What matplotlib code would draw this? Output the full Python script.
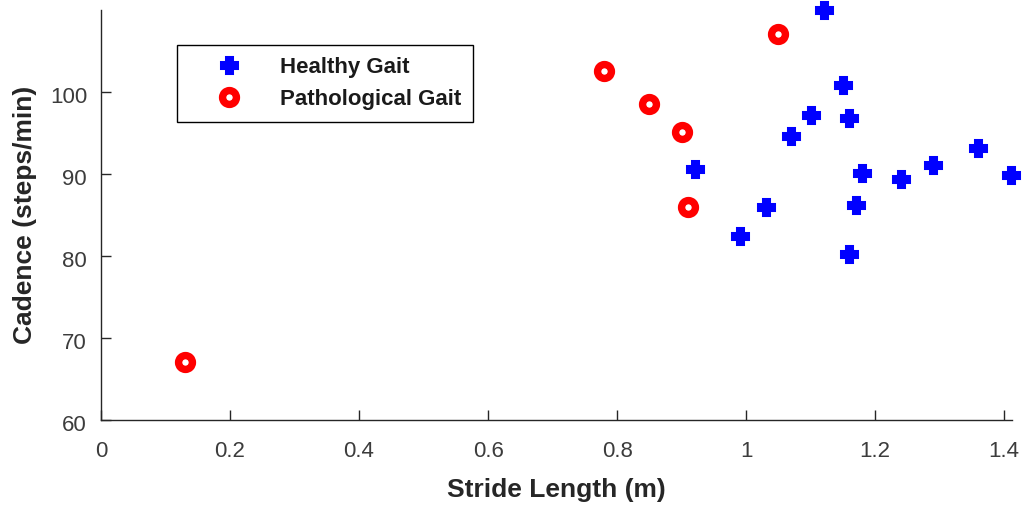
import matplotlib
matplotlib.use("Agg")
import matplotlib.pyplot as plt
from matplotlib.transforms import ScaledTranslation

# stride length (m) and cadence (steps/min)
healthy_stride = [1.12, 0.92, 0.99, 1.03, 1.07, 1.10, 1.15, 1.16, 1.18, 1.17, 1.16, 1.24, 1.29, 1.36, 1.41]
healthy_cadence = [110.0, 90.6, 82.4, 86.0, 94.6, 97.2, 100.9, 96.8, 90.1, 86.2, 80.2, 89.4, 91.1, 93.2, 89.9]
patho_stride = [0.13, 0.78, 0.85, 0.90, 0.91, 1.05]
patho_cadence = [67.1, 102.6, 98.5, 95.1, 86.0, 107.1]

xticks = [0, 0.2, 0.4, 0.6, 0.8, 1.0, 1.2, 1.4]
xticklabels = ["0", "0.2", "0.4", "0.6", "0.8", "1", "1.2", "1.4"]
yticks = [60, 70, 80, 90, 100]

plt.rcParams["font.family"] = ["Liberation Sans", "DejaVu Sans"]
axc = "#262626"

fig = plt.figure(figsize=(10.22, 5.07), dpi=100)
ax = fig.add_axes([0.0988, 0.1716, 0.8914, 0.8087])

ax.plot(healthy_stride, healthy_cadence, linestyle="none", marker="P",
        markersize=11, markerfacecolor="#0000ff", markeredgecolor="#0000ff",
        markeredgewidth=2.2, label="Healthy Gait", clip_on=False, zorder=3)
ax.plot(patho_stride, patho_cadence, linestyle="none", marker="o",
        markersize=10, markerfacecolor="white", markeredgecolor="#ff0000",
        markeredgewidth=5.3, label="Pathological Gait", clip_on=False, zorder=3)

ax.set_xlim(0, 1.412)
ax.set_ylim(60, 110)
ax.set_xticks(xticks)
ax.set_xticklabels(xticklabels)
ax.set_yticks(yticks)
ax.tick_params(direction="in", length=7, width=1, colors=axc, labelsize=16,
               labelcolor="#3c3c3c")
ax.tick_params(axis="x", pad=15)
ax.tick_params(axis="y", pad=10)
# matlab-style: y tick labels sit a little below their tick
for lab in ax.get_yticklabels():
    lab.set_transform(lab.get_transform() + ScaledTranslation(0, -3 / 100, fig.dpi_scale_trans))
for s in ["top", "right"]:
    ax.spines[s].set_visible(False)
for s in ["left", "bottom"]:
    ax.spines[s].set_color(axc)
    ax.spines[s].set_linewidth(1.0)

ax.set_xlabel("Stride Length (m)", fontsize=19, fontweight="bold", color=axc, labelpad=12)
ax.set_ylabel("Cadence (steps/min)", fontsize=19, fontweight="bold", color=axc, labelpad=9)

leg = ax.legend(loc="upper left", bbox_to_anchor=(0.083, 0.915), borderaxespad=0,
                fancybox=False, edgecolor="black", framealpha=1,
                prop={"weight": "bold", "size": 16}, handletextpad=0.5,
                borderpad=0.55, labelspacing=0.5, handlelength=3.6)
leg.get_frame().set_linewidth(1.0)
for t in leg.get_texts():
    t.set_color("#1a1a1a")

fig.savefig("out.png", dpi=100)
